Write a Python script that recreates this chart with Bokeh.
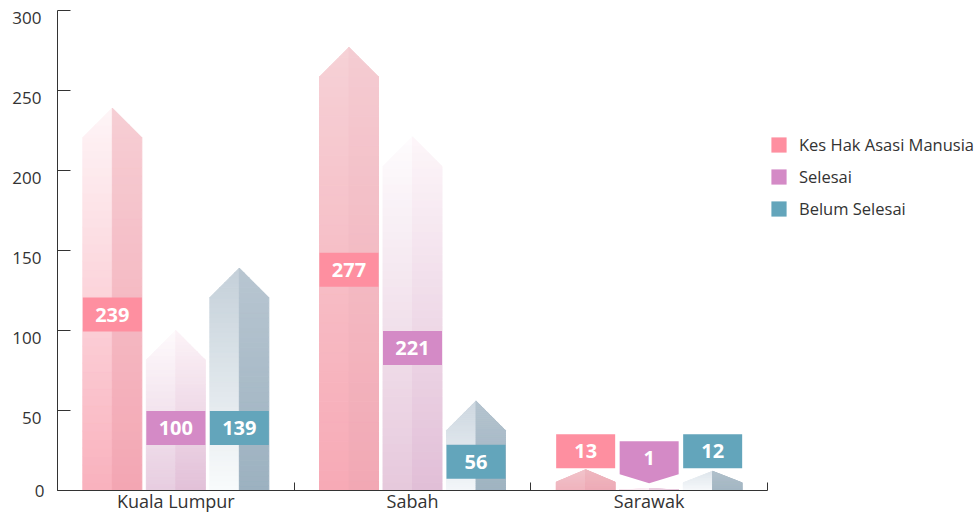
import numpy as np
from bokeh.plotting import figure
from bokeh.models import (FixedTicker, Legend, LegendItem, LinearAxis, Range1d,
                          CustomLabelingPolicy)
from bokeh.core.properties import value
from bokeh.embed import file_html
from bokeh.resources import INLINE

# ---- data ----
categories = ["Kuala Lumpur", "Sabah", "Sarawak"]
series_names = ["Kes Hak Asasi Manusia", "Selesai", "Belum Selesai"]
kes = [239, 277, 13]
selesai = [100, 221, 1]
belum = [139, 56, 12]
# vertical centre of each value label box (axis units)
kes_label_y = [110, 138, 24.5]
selesai_label_y = [39, 89, 20.5]
belum_label_y = [39, 18, 24.5]
y_ticks = [0, 50, 100, 150, 200, 250, 300]

# ---- styles ----
FONT = "Open Sans"
TXT = "#333333"
series_colors = ["#FE8FA0", "#D48AC6", "#63A5BB"]
# per bar gradient: ((left_top, left_bottom), (right_top, right_bottom))
grad = {
    0: [(("#fef5f7", "#f9b1bd"), ("#f6ced4", "#f3a6b3")),
        (("#f6d1d6", "#f7aab6"), ("#f4ccd2", "#f2a8b4")),
        (("#f1c3ca", "#f0b3bd"), ("#eeb8c0", "#eeaab6"))],
    1: [(("#fefafc", "#e7cde0"), ("#fcf3f7", "#e2c0d8")),
        (("#fefcfd", "#e6c8dc"), ("#fdf6f9", "#e1bed7")),
        (("#fbeef4", "#f3dbe8"), ("#ecd0e2", "#e5c4da"))],
    2: [(("#c4d0d9", "#f9fbfc"), ("#b8c6d1", "#9cb1c0")),
        (("#ccd6df", "#f3f6f9"), ("#b4c3ce", "#9fb3c2")),
        (("#dfe6ec", "#f7f9fb"), ("#b0c0cb", "#a3b6c3"))],
}

W_PX, H_PX = 978, 515
BL, BT, BB = 57, 10, 25
PLOT_W = 710            # width of the part of the frame holding the groups
FRAME_W = W_PX - BL
FRAME_H = H_PX - BT - BB
y0, y1 = 0, 300
px_x = PLOT_W / 3.0
px_y = FRAME_H / (y1 - y0)
x0 = -0.5
x1 = x0 + FRAME_W / px_x

bar_w = 59 / px_x
offs = [-63.5 / px_x, 0.0, 63.5 / px_x]
half = bar_w / 2
tip_full = (59 / 2) / px_y

p = figure(width=W_PX, height=H_PX, x_range=(x0, x1), y_range=(y0, y1),
           output_backend="svg", toolbar_location=None,
           min_border_left=BL, min_border_right=0, min_border_top=BT,
           min_border_bottom=BB)
p.outline_line_color = None
p.xgrid.visible = False
p.ygrid.visible = False
p.background_fill_color = "white"


def hex2rgb(h):
    h = h.lstrip("#")
    return np.array([int(h[i:i + 2], 16) for i in (0, 2, 4)], dtype=float)


def mix(top, bottom, t):
    c = hex2rgb(bottom) + (hex2rgb(top) - hex2rgb(bottom)) * t
    return "#%02x%02x%02x" % tuple(int(round(v)) for v in c)


xs, ys, cols = [], [], []
all_vals = [kes, selesai, belum]
for si, vals in enumerate(all_vals):
    for ci, v in enumerate(vals):
        xc = ci + offs[si]
        tip = min(tip_full, 0.6 * v)
        body_top = v - tip
        levels = sorted(set(np.linspace(0, v, 46).tolist()) | {body_top})

        def ext(y):
            if y <= body_top:
                return half
            return half * (v - y) / (v - body_top)

        for side in (0, 1):
            top_c, bot_c = grad[si][ci][side]
            sgn = -1 if side == 0 else 1
            for a, b in zip(levels[:-1], levels[1:]):
                if b - a <= 1e-9:
                    continue
                xs.append([xc + sgn * ext(a), xc, xc, xc + sgn * ext(b)])
                ys.append([a, a, b, b])
                cols.append(mix(top_c, bot_c, ((a + b) / 2) / v))

p.patches(xs=xs, ys=ys, fill_color=cols, line_color=cols, line_width=1)

# ---- value labels ----
all_label_y = [kes_label_y, selesai_label_y, belum_label_y]
for si, vals in enumerate(all_vals):
    col = series_colors[si]
    rx, ry, rtxt = [], [], []
    for ci, v in enumerate(vals):
        xc = ci + offs[si]
        ly = all_label_y[si][ci]
        if v < 5:
            # callout box pointing down to a tiny bar
            top = ly + (33 / px_y) / 2
            bot = ly - (33 / px_y) / 2
            tipy = bot - 9 / px_y
            p.patches(xs=[[xc - half, xc + half, xc + half, xc, xc - half]],
                      ys=[[top, top, bot, tipy, bot]],
                      fill_color=col, line_color=None)
        else:
            rx.append(xc)
            ry.append(ly)
        rtxt.append(str(v))
    if rx:
        p.rect(x=rx, y=ry, width=bar_w, height=34, height_units="screen",
               fill_color=col, line_color=None)
    p.text(x=[ci + offs[si] for ci in range(len(vals))],
           y=all_label_y[si], text=rtxt,
           text_align="center", text_baseline="middle",
           text_color="white", text_font=value(FONT),
           text_font_style="bold", text_font_size="20px")

# ---- x axis ----
xa = p.xaxis[0]
xa.axis_label = None
xa.bounds = (-0.5, 2.5)
xa.ticker = FixedTicker(ticks=list(range(len(categories))),
                        minor_ticks=[i + 0.5 for i in range(-1, len(categories))])
xa.major_label_overrides = {i: c for i, c in enumerate(categories)}
xa.major_tick_line_color = None
xa.major_tick_in = 0
xa.major_tick_out = 0
xa.minor_tick_in = 8
xa.minor_tick_out = 0
xa.minor_tick_line_color = TXT
xa.axis_line_color = TXT
xa.major_label_text_font = FONT
xa.major_label_text_font_size = "18px"
xa.major_label_text_color = TXT
xa.major_label_standoff = -2

# ---- y axis (A): line + ticks on the main range, no labels ----
no_labels = CustomLabelingPolicy(code="for (const i of indices) { if (false) yield i }")
ya = p.yaxis[0]
ya.axis_label = None
ya.ticker = FixedTicker(ticks=y_ticks, minor_ticks=[])
ya.major_tick_in = 13
ya.major_tick_out = 0
ya.major_tick_line_color = TXT
ya.axis_line_color = TXT
ya.major_label_text_font_size = "0px"
ya.major_label_standoff = 0
ya.major_label_policy = no_labels

# (B): the "0" label on the main range
y_zero = LinearAxis(ticker=FixedTicker(ticks=y_ticks[:1], minor_ticks=[]),
                    axis_line_color=None, major_tick_line_color=None,
                    minor_tick_line_color=None, major_tick_in=0, major_tick_out=0,
                    major_label_standoff=13, major_label_text_font=FONT,
                    major_label_text_font_size="17px", major_label_text_color=TXT)
p.add_layout(y_zero, "left")

# (C): the other labels sit 7px below their ticks: label axis on a shifted range
shift = 7 / px_y
p.extra_y_ranges = {"lab": Range1d(start=y0 + shift, end=y1 + shift)}
ylab = LinearAxis(y_range_name="lab",
                  ticker=FixedTicker(ticks=y_ticks[1:], minor_ticks=[]),
                  axis_line_color=None, major_tick_line_color=None,
                  minor_tick_line_color=None, major_tick_in=0, major_tick_out=0,
                  major_label_standoff=-10, major_label_text_font=FONT,
                  major_label_text_font_size="17px", major_label_text_color=TXT)
p.add_layout(ylab, "left")

# ---- legend ----
items = []
for si, name in enumerate(series_names):
    r = p.quad(left=[0], right=[0.01], top=[-40], bottom=[-50],
               fill_color=series_colors[si], line_color=None)
    items.append(LegendItem(label=name, renderers=[r]))
legend = Legend(items=items, location=(PLOT_W + 2, 270), orientation="vertical",
                glyph_width=19, glyph_height=19, label_height=19,
                label_standoff=11, spacing=9, padding=0, margin=0,
                border_line_color=None, background_fill_alpha=0,
                label_text_font=FONT, label_text_font_size="16.5px",
                label_text_color=TXT)
p.add_layout(legend, "center")

open("out.html", "w").write(file_html(p, INLINE))
